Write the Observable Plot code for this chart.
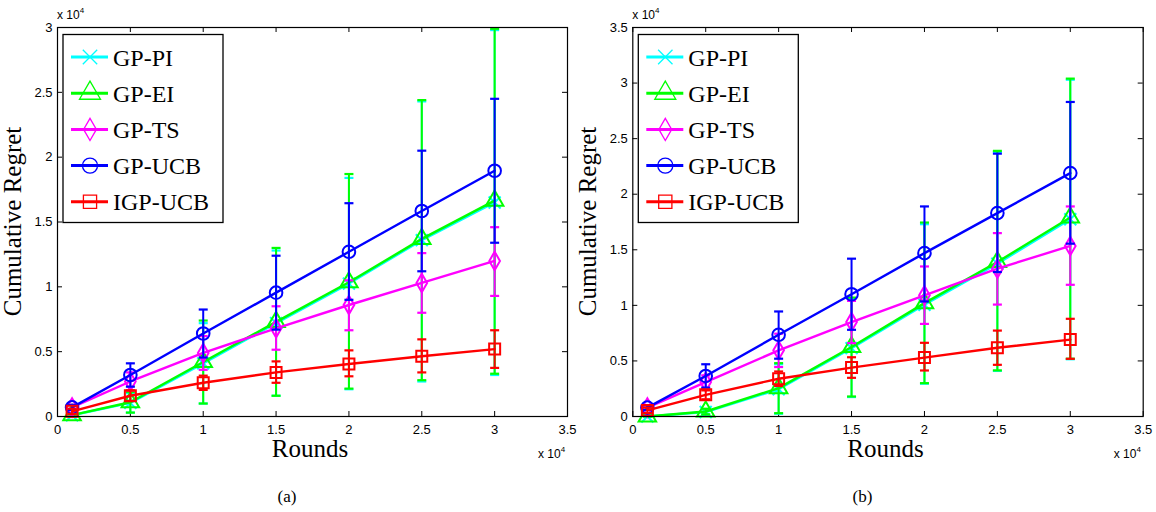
<!DOCTYPE html>
<html><head><meta charset="utf-8">
<script src="https://cdn.jsdelivr.net/npm/d3@7"></script>
<script src="https://cdn.jsdelivr.net/npm/@observablehq/plot@0.6"></script>
<style>
body{margin:0;background:#fff;}
#wrap{width:1156px;height:512px;display:flex;}
#wrap svg{display:block;}
</style></head><body><div id="wrap"></div>
<script>
// ---------- data ----------
const rounds = [1000, 5000, 10000, 15000, 20000, 25000, 30000];
const seriesNames = ["GP-PI", "GP-EI", "GP-TS", "GP-UCB", "IGP-UCB"];
const seriesColors = ["#00ffff", "#00ff00", "#ff00ff", "#0000ff", "#ff0000"];
const seriesSymbols = ["times", "triangle", "diamond", "circle", "square"];
const xTicks = [0, 5000, 10000, 15000, 20000, 25000, 30000, 35000];
const yTicksA = [0, 5000, 10000, 15000, 20000, 25000, 30000];
const yTicksB = [0, 5000, 10000, 15000, 20000, 25000, 30000, 35000];
const captions = ["(a)", "(b)"];

// panel (a): mean, lower and upper end of error bar
const aPI_mean  = [100, 1050, 4100, 7200, 10250, 13600, 16500];
const aPI_lo    = [0, 300, 1000, 1600, 2100, 2700, 3200];
const aPI_hi    = [200, 1800, 7200, 12800, 18400, 24300, 29800];
const aEI_mean  = [100, 1100, 4200, 7300, 10350, 13700, 16650];
const aEI_lo    = [0, 300, 1000, 1600, 2150, 2800, 3300];
const aEI_hi    = [200, 1900, 7400, 13000, 18700, 24400, 29900];
const aTS_mean  = [700, 2700, 4900, 6800, 8600, 10300, 12000];
const aTS_lo    = [500, 2000, 3600, 5150, 6650, 8000, 9300];
const aTS_hi    = [900, 3400, 6200, 8500, 10500, 12600, 14600];
const aUCB_mean = [700, 3200, 6400, 9550, 12700, 15850, 18950];
const aUCB_lo   = [500, 2300, 4550, 6700, 9000, 11200, 13400];
const aUCB_hi   = [900, 4100, 8250, 12400, 16450, 20500, 24500];
const aIGP_mean = [400, 1600, 2600, 3400, 4050, 4650, 5200];
const aIGP_lo   = [200, 1200, 2050, 2600, 3100, 3400, 3750];
const aIGP_hi   = [600, 2000, 3150, 4250, 5100, 5950, 6650];

// panel (b)
const bPI_mean  = [0, 400, 2450, 6150, 10050, 13750, 17750];
const bPI_lo    = [0, 150, 250, 1750, 2950, 4100, 5150];
const bPI_hi    = [100, 650, 4700, 10600, 17300, 23800, 30300];
const bEI_mean  = [0, 450, 2550, 6250, 10200, 13900, 17900];
const bEI_lo    = [0, 200, 300, 1800, 3000, 4150, 5200];
const bEI_hi    = [100, 700, 4800, 10700, 17450, 23900, 30400];
const bTS_mean  = [800, 3100, 5950, 8500, 10900, 13300, 15350];
const bTS_lo    = [600, 2500, 4450, 6600, 8330, 10070, 11850];
const bTS_hi    = [1000, 3700, 7450, 10400, 13500, 16500, 18900];
const bUCB_mean = [800, 3650, 7350, 11000, 14700, 18300, 21900];
const bUCB_lo   = [600, 2600, 5200, 7800, 10350, 13000, 15550];
const bUCB_hi   = [1000, 4700, 9450, 14200, 18900, 23650, 28300];
const bIGP_mean = [550, 1950, 3400, 4400, 5300, 6180, 6920];
const bIGP_lo   = [300, 1550, 2750, 3480, 4140, 4650, 5190];
const bIGP_hi   = [800, 2350, 4050, 5330, 6630, 7730, 8790];

// ---------- drawing ----------
const capSymbol = {draw(ctx) { ctx.moveTo(-4.5, 0); ctx.lineTo(4.5, 0); }};
const symbolR = {times: 5.5, triangle: 6.5, diamond: 5.6, circle: 6.3, square: 6.2};
const fmt = d => String(d / 1e4);

function panel({means, los, his, yMax, yTicks, marginLeft, marginRight, caption}) {
  const W = 578, H = 512, mt = 27, mb = 96;
  const fw = W - marginLeft - marginRight, fh = H - mt - mb;
  const marks = [];
  // inward ticks on all four sides
  marks.push(Plot.ruleX(xTicks, {x: d => d, insetTop: fh - 5, stroke: "#000", strokeWidth: 1}));
  marks.push(Plot.ruleX(xTicks, {x: d => d, insetBottom: fh - 5, stroke: "#000", strokeWidth: 1}));
  marks.push(Plot.ruleY(yTicks, {y: d => d, insetRight: fw - 5, stroke: "#000", strokeWidth: 1}));
  marks.push(Plot.ruleY(yTicks, {y: d => d, insetLeft: fw - 5, stroke: "#000", strokeWidth: 1}));
  seriesNames.forEach((name, i) => {
    const data = rounds.map((r, j) => ({x: r, y: means[i][j], lo: los[i][j], hi: his[i][j]}));
    const c = seriesColors[i];
    marks.push(Plot.ruleX(data, {x: "x", y1: "lo", y2: "hi", stroke: c, strokeWidth: 2}));
    marks.push(Plot.dot(data, {x: "x", y: "lo", symbol: capSymbol, r: 4, stroke: c, fill: "none", strokeWidth: 2.2}));
    marks.push(Plot.dot(data, {x: "x", y: "hi", symbol: capSymbol, r: 4, stroke: c, fill: "none", strokeWidth: 2.2}));
    marks.push(Plot.line(data, {x: "x", y: "y", stroke: c, strokeWidth: 2.4}));
    marks.push(Plot.dot(data, {x: "x", y: "y", symbol: seriesSymbols[i], r: symbolR[seriesSymbols[i]], stroke: c, fill: "none", strokeWidth: 2}));
  });
  marks.push(Plot.frame({stroke: "#000", strokeWidth: 1.2}));
  marks.push(Plot.axisX({ticks: xTicks, tickFormat: fmt, tickSize: 0, tickPadding: 8, label: null,
    fontSize: 13, fontFamily: "Liberation Sans, Arial, sans-serif"}));
  marks.push(Plot.axisY({ticks: yTicks, tickFormat: fmt, tickSize: 0, tickPadding: 5, label: null,
    fontSize: 13, fontFamily: "Liberation Sans, Arial, sans-serif"}));

  const svg = Plot.plot({
    width: W, height: H, marginLeft, marginRight, marginTop: mt, marginBottom: mb,
    x: {domain: [0, 35000]},
    y: {domain: [0, yMax]},
    style: {background: "#fff", color: "#000", fontFamily: "Liberation Sans, Arial, sans-serif", overflow: "visible"},
    marks
  });

  const s = d3.select(svg);
  const serif = "Liberation Serif, Times New Roman, serif";
  const sans = "Liberation Sans, Arial, sans-serif";
  const cx = marginLeft + fw / 2, cy = mt + fh / 2;
  // axis titles
  s.append("text").attr("x", cx - 2).attr("y", 457).attr("text-anchor", "middle")
    .attr("font-family", serif).attr("font-size", 25).text("Rounds");
  s.append("text").attr("transform", `translate(${marginLeft - 36},${cy}) rotate(-90)`).attr("text-anchor", "middle")
    .attr("font-family", serif).attr("font-size", 25).text("Cumulative Regret");
  // exponent labels
  const exp = (x, y) => {
    const t = s.append("text").attr("x", x).attr("y", y).attr("text-anchor", "start")
      .attr("font-family", sans).attr("font-size", 12);
    t.append("tspan").text("x 10");
    t.append("tspan").attr("font-size", 8).attr("dy", -6).text("4");
  };
  exp(marginLeft, 19);
  exp(marginLeft + fw - 29, 458);
  // caption
  s.append("text").attr("x", cx - 25).attr("y", 502).attr("text-anchor", "middle")
    .attr("font-family", serif).attr("font-size", 17).text(caption);
  // legend
  const lx = marginLeft + 6, ly = mt + 7.5, lw = 160, lh = 188;
  const g = s.append("g");
  g.append("rect").attr("x", lx).attr("y", ly).attr("width", lw).attr("height", lh)
    .attr("fill", "#fff").attr("stroke", "#000").attr("stroke-width", 1.3);
  const d3sym = {times: d3.symbolTimes, triangle: d3.symbolTriangle, diamond: d3.symbolDiamond, circle: d3.symbolCircle, square: d3.symbolSquare};
  seriesNames.forEach((name, i) => {
    const yy = ly + 22.5 + i * 36.2;
    const c = seriesColors[i];
    g.append("line").attr("x1", lx + 8).attr("x2", lx + 45).attr("y1", yy).attr("y2", yy)
      .attr("stroke", c).attr("stroke-width", 3);
    const r = symbolR[seriesSymbols[i]] * 1.2;
    g.append("path").attr("transform", `translate(${lx + 27},${yy})`)
      .attr("d", d3.symbol(d3sym[seriesSymbols[i]], Math.PI * r * r)())
      .attr("fill", "none").attr("stroke", c).attr("stroke-width", 1.3);
    g.append("text").attr("x", lx + 50).attr("y", yy + 8.5).attr("text-anchor", "start")
      .attr("font-family", serif).attr("font-size", 24).text(name);
  });
  return svg;
}

const wrap = document.getElementById("wrap");
wrap.appendChild(panel({
  means: [aPI_mean, aEI_mean, aTS_mean, aUCB_mean, aIGP_mean],
  los: [aPI_lo, aEI_lo, aTS_lo, aUCB_lo, aIGP_lo],
  his: [aPI_hi, aEI_hi, aTS_hi, aUCB_hi, aIGP_hi],
  yMax: 30000, yTicks: yTicksA, marginLeft: 57, marginRight: 11, caption: captions[0]
}));
wrap.appendChild(panel({
  means: [bPI_mean, bEI_mean, bTS_mean, bUCB_mean, bIGP_mean],
  los: [bPI_lo, bEI_lo, bTS_lo, bUCB_lo, bIGP_lo],
  his: [bPI_hi, bEI_hi, bTS_hi, bUCB_hi, bIGP_hi],
  yMax: 35000, yTicks: yTicksB, marginLeft: 54.3, marginRight: 13.3, caption: captions[1]
}));
</script></body></html>
